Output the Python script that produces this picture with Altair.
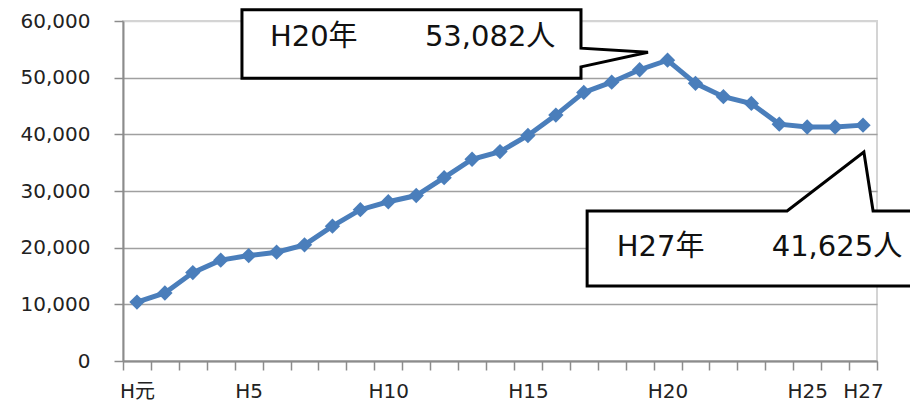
import altair as alt
import pandas as pd

# ---- data ----
years = list(range(1, 28))
population = [10400, 12000, 15600, 17800, 18600, 19200, 20500, 23800, 26700, 28100,
              29200, 32350, 35600, 36950, 39800, 43400, 47400, 49200, 51400, 53082,
              49000, 46650, 45450, 41800, 41300, 41300, 41625]
label_years = [1, 5, 10, 15, 20, 25, 27]
label_texts = ["H元", "H5", "H10", "H15", "H20", "H25", "H27"]
y_ticks = [0, 10000, 20000, 30000, 40000, 50000, 60000]
x_tick_edges = [y + 0.5 for y in range(0, 28)]

# callout 1 (H20), in data units (pointer to the right)
c1_y = [62000, 55200, 54500, 51900, 49900]
c1_x = [4.76, 4.76, 4.76, 4.76, 4.76]
c1_x2 = [16.9, 16.9, 19.3, 16.9, 16.9]
# callout 2 (H27), in data units (pointer upwards)
c2_x = [17.12, 24.28, 27.03, 27.36, 29.6]
c2_y = [26470, 26470, 36880, 26470, 26470]
c2_y2 = [13235, 13235, 13235, 13235, 13235]
# callout texts
txt_x = [5.76, 11.31, 18.18, 23.73]
txt_y = [57100, 57100, 20100, 20100]
txt_s = ["H20年", "53,082人", "H27年", "41,625人"]

FONT = "DejaVu Sans, Noto Sans CJK JP"
BLUE = "#4a7ebb"
W, H = 754, 340

df = pd.DataFrame({"year": years, "pop": population})
df1 = pd.DataFrame({"pop": c1_y, "year": c1_x, "year2": c1_x2})
df2 = pd.DataFrame({"year": c2_x, "pop": c2_y, "pop2": c2_y2})
dft = pd.DataFrame({"year": txt_x, "pop": txt_y, "t": txt_s})

xs = alt.Scale(domain=[0.5, 27.5], nice=False, zero=False)
ys = alt.Scale(domain=[0, 60000], nice=False)

# ticks sit on the category edges; each label is shifted half a category to its point
label_expr = " : ".join(f"datum.value == {v - 0.5} ? '{t}'" for v, t in zip(label_years, label_texts)) + " : ''"

x_axis = alt.Axis(
    values=x_tick_edges,
    labelExpr=label_expr,
    labelOffset=W / 27 / 2,
    title=None, grid=False,
    labelOverlap=False, labelFlush=False, labelBound=False,
)
y_axis = alt.Axis(
    values=y_ticks, format=",.0f", title=None, grid=True,
    gridColor={"condition": {"test": "datum.value == 60000", "value": "#d4d4d4"}, "value": "#a0a0a0"},
)

X = alt.X("year:Q", scale=xs, axis=x_axis)
Y = alt.Y("pop:Q", scale=ys, axis=y_axis)

line = alt.Chart(df).mark_line(color=BLUE, strokeWidth=5).encode(x=X, y=Y)
pts = alt.Chart(df).mark_point(shape="diamond", size=235, filled=True, color=BLUE, opacity=1).encode(x=X, y=Y)
call1 = alt.Chart(df1).mark_area(orient="horizontal", fill="white", stroke="black",
                                 strokeWidth=3, strokeJoin="miter", opacity=1).encode(
    y=Y, x=X, x2="year2:Q")
call2 = alt.Chart(df2).mark_area(fill="white", stroke="black",
                                 strokeWidth=3, strokeJoin="miter", opacity=1).encode(
    x=X, y=Y, y2="pop2:Q")
texts = alt.Chart(dft).mark_text(align="left", baseline="middle", font=FONT,
                                 fontSize=29, color="#111111").encode(
    x=X, y=Y, text="t:N")

chart = alt.layer(line, pts, call1, call2, texts).properties(
    width=W, height=H,
    autosize=alt.AutoSizeParams(type="none"),
    padding={"left": 115, "top": 13, "right": 33, "bottom": 40},
    background="white",
).configure_view(
    stroke="#d4d4d4", strokeWidth=2
).configure_axis(
    labelFont=FONT, labelFontSize=20, labelColor="#222222",
    tickSize=9, tickWidth=1.5, tickColor="#8c8c8c",
    domainColor="#8c8c8c", domainWidth=2,
    gridWidth=1.6,
).configure_axisX(
    labelPadding=11,
).configure_axisY(
    labelPadding=24,
)

chart.save("out.html", embed_options={"renderer": "svg", "actions": False})
